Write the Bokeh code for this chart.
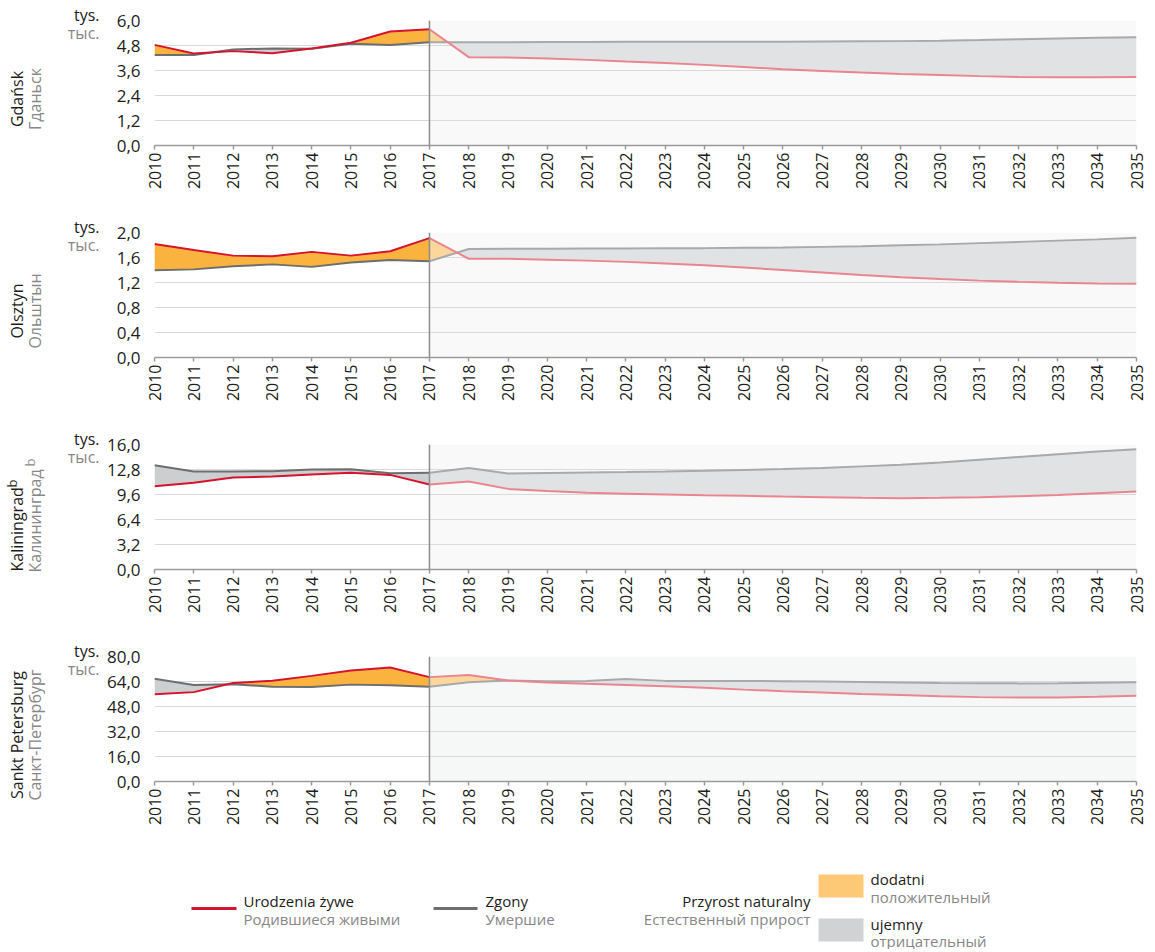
import numpy as np
from math import pi
from bokeh.plotting import figure
from bokeh.layouts import column, row
from bokeh.models import (Range1d, FixedTicker, CustomJSTickFormatter, Span,
                          BoxAnnotation)
from bokeh.core.properties import value
from bokeh.embed import file_html
from bokeh.resources import INLINE

FONT = "Open Sans"

years = list(range(2010, 2036))
split_year = 2017

gdansk_births = [4.83, 4.42, 4.53, 4.43, 4.66, 4.93, 5.47, 5.58,
                 4.24, 4.22, 4.18, 4.11, 4.03, 3.96, 3.87, 3.77, 3.66, 3.58,
                 3.50, 3.43, 3.38, 3.33, 3.29, 3.28, 3.28, 3.29]
gdansk_deaths = [4.34, 4.34, 4.61, 4.66, 4.64, 4.88, 4.82, 4.96,
                 4.96, 4.96, 4.97, 4.97, 4.98, 4.98, 4.98, 4.98, 4.98, 4.99,
                 5.00, 5.01, 5.03, 5.06, 5.10, 5.14, 5.17, 5.20]

olsztyn_births = [1.815, 1.72, 1.63, 1.62, 1.69, 1.63, 1.70, 1.91,
                  1.58, 1.58, 1.565, 1.55, 1.53, 1.505, 1.475, 1.44, 1.40, 1.36,
                  1.32, 1.285, 1.255, 1.23, 1.21, 1.195, 1.185, 1.18]
olsztyn_deaths = [1.395, 1.41, 1.46, 1.49, 1.45, 1.52, 1.56, 1.54,
                  1.735, 1.74, 1.74, 1.745, 1.745, 1.75, 1.75, 1.755, 1.76, 1.77,
                  1.78, 1.795, 1.81, 1.83, 1.85, 1.87, 1.89, 1.915]

kaliningrad_births = [10.66, 11.09, 11.78, 11.90, 12.16, 12.37, 12.11, 10.88,
                      11.26, 10.32, 10.05, 9.81, 9.70, 9.60, 9.50, 9.43, 9.33, 9.25,
                      9.18, 9.13, 9.17, 9.25, 9.38, 9.55, 9.77, 9.98]
kaliningrad_deaths = [13.35, 12.54, 12.54, 12.58, 12.80, 12.84, 12.33, 12.37,
                      13.00, 12.29, 12.35, 12.41, 12.47, 12.54, 12.64, 12.75, 12.86, 13.00,
                      13.20, 13.40, 13.70, 14.05, 14.40, 14.75, 15.10, 15.40]

spb_births = [55.9, 57.2, 63.0, 64.5, 67.6, 71.0, 73.0, 66.8,
              68.1, 64.6, 63.3, 62.5, 61.8, 61.0, 60.0, 58.8, 57.8, 56.9,
              56.0, 55.3, 54.6, 54.0, 53.7, 53.8, 54.3, 54.9]
spb_deaths = [65.7, 61.8, 62.2, 60.7, 60.5, 62.0, 61.6, 60.7,
              63.5, 64.6, 64.2, 64.3, 65.6, 64.4, 64.3, 64.3, 64.2, 64.0,
              63.7, 63.4, 63.1, 62.9, 62.8, 62.9, 63.2, 63.5]

# (polish name, russian name, superscript note, births, deaths, y max, forecast background)
panels = [
    ("Gdańsk", "Гданьск", "", gdansk_births, gdansk_deaths, 6.0, "#f9f9f9"),
    ("Olsztyn", "Ольштын", "", olsztyn_births, olsztyn_deaths, 2.0, "#f9f9f9"),
    ("Kaliningrad", "Калининград", "b", kaliningrad_births, kaliningrad_deaths, 16.0, "#f9f9f9"),
    ("Sankt Petersburg", "Санкт-Петербург", "", spb_births, spb_deaths, 80.0, "#f6f8f8"),
]

unit_pl = "tys."
unit_ru = "тыс."

legend_births = ("Urodzenia żywe", "Родившиеся живыми")
legend_deaths = ("Zgony", "Умершие")
legend_growth = ("Przyrost naturalny", "Естественный прирост")
legend_pos = ("dodatni", "положительный")
legend_neg = ("ujemny", "отрицательный")

RED = "#d7142f"
RED_L = "#ea8590"
GRAY = "#6d6e70"
GRAY_L = "#a8a9ab"
ORANGE = "#fbb340"
ORANGE_L = "#fcd79c"
FILLGRAY = "#cdcecf"
FILLGRAY_L = "#e1e2e4"
TXT = "#1d1d1b"
TXT2 = "#878787"


def with_crossings(x, b, d):
    xs, bs, ds = [x[0]], [b[0]], [d[0]]
    for i in range(len(x) - 1):
        d0 = b[i] - d[i]
        d1 = b[i + 1] - d[i + 1]
        if d0 * d1 < 0:
            t = d0 / (d0 - d1)
            xi = x[i] + t * (x[i + 1] - x[i])
            yi = b[i] + t * (b[i + 1] - b[i])
            xs.append(xi); bs.append(yi); ds.append(yi)
        xs.append(x[i + 1]); bs.append(b[i + 1]); ds.append(d[i + 1])
    return np.array(xs), np.array(bs), np.array(ds)


# layout constants (page pixels, origin at 1,1)
LEFT_W = 100
BORDER_L = 54
FRAME_W = 982
BORDER_R = 10
RIGHT_W = BORDER_L + FRAME_W + BORDER_R
FRAME_H = 125
PANEL_H = 212
LEG_H = 94
TOP0 = 20

figs = []
frame_tops = []
y_cursor = 1
for idx, (name_pl, name_ru, sup, births, deaths, ymax, bg) in enumerate(panels):
    top_b = TOP0 if idx == 0 else 13
    h = PANEL_H + (TOP0 - 13 if idx == 0 else 0)
    frame_tops.append(y_cursor + top_b)
    y_cursor += h
    p = figure(width=RIGHT_W, height=h, output_backend="svg", toolbar_location=None,
               x_range=Range1d(years[0], years[-1]), y_range=Range1d(0, ymax),
               min_border_left=BORDER_L, min_border_right=BORDER_R, min_border_top=top_b,
               min_border_bottom=74)
    p.outline_line_color = None
    p.background_fill_color = "white"
    p.xgrid.grid_line_color = None
    p.ygrid.grid_line_color = "#d9d9d9"
    p.ygrid.grid_line_width = 1

    k = years.index(split_year)
    p.add_layout(BoxAnnotation(left=split_year, right=years[-1], fill_color=bg,
                               fill_alpha=1, line_color=None, level="image"))

    x = np.array(years, dtype=float)
    b = np.array(births)
    d = np.array(deaths)
    for sl, fo, fg in [(slice(0, k + 1), ORANGE, FILLGRAY), (slice(k, None), ORANGE_L, FILLGRAY_L)]:
        xs, bs, ds = with_crossings(x[sl], b[sl], d[sl])
        top = np.maximum(bs, ds)
        p.varea(x=xs, y1=top, y2=ds, fill_color=fo)
        p.varea(x=xs, y1=top, y2=bs, fill_color=fg)

    p.line(x[:k + 1], d[:k + 1], line_color=GRAY, line_width=2)
    p.line(x[:k + 1], b[:k + 1], line_color=RED, line_width=2)
    p.line(x[k:], d[k:], line_color=GRAY_L, line_width=2)
    p.line(x[k:], b[k:], line_color=RED_L, line_width=2)

    p.add_layout(Span(location=split_year, dimension="height", line_color="#8c8c8c",
                      line_width=1.5))

    p.xaxis.ticker = FixedTicker(ticks=years)
    p.xaxis.major_label_orientation = pi / 2
    p.xaxis.axis_line_color = "#9a9a9a"
    p.xaxis.axis_line_width = 1.5
    p.xaxis.major_tick_line_color = "#9a9a9a"
    p.xaxis.major_tick_line_width = 1.5
    p.xaxis.major_tick_in = 0
    p.xaxis.major_tick_out = 4
    p.xaxis.minor_tick_line_color = None
    p.xaxis.major_label_text_font = FONT
    p.xaxis.major_label_text_font_size = "16px"
    p.xaxis.major_label_text_color = TXT
    p.xaxis.major_label_standoff = 3

    p.yaxis.ticker = FixedTicker(ticks=[ymax * i / 5 for i in range(6)])
    p.yaxis.formatter = CustomJSTickFormatter(code="return tick.toFixed(1).replace('.', ',');")
    p.yaxis.axis_line_color = None
    p.yaxis.major_tick_line_color = None
    p.yaxis.minor_tick_line_color = None
    p.yaxis.major_label_text_font = FONT
    p.yaxis.major_label_text_font_size = "17px"
    p.yaxis.major_label_text_color = TXT
    p.yaxis.major_label_standoff = 8
    figs.append(p)

leg_top = y_cursor
total_h = leg_top + LEG_H - 1
frame_left = 1 + LEFT_W + BORDER_L

# legend figure: its frame is aligned with the panel frames; coordinates = page pixels
leg = figure(width=RIGHT_W, height=LEG_H, output_backend="svg", toolbar_location=None,
             x_range=Range1d(frame_left, frame_left + FRAME_W),
             y_range=Range1d(leg_top + LEG_H, leg_top),
             min_border_left=BORDER_L, min_border_right=BORDER_R,
             min_border_top=0, min_border_bottom=0)
leg.axis.visible = False
leg.grid.visible = False
leg.outline_line_color = None

leg.line([192, 237], [909, 909], line_color=RED, line_width=3)
leg.line([434, 478], [909, 909], line_color=GRAY, line_width=3)
leg.quad(left=[819], right=[864], top=[875], bottom=[898], fill_color="#fdc977", line_color=None)
leg.quad(left=[819], right=[864], top=[919], bottom=[942], fill_color="#d1d2d4", line_color=None)


def legtext(x, y, t, color, align="left"):
    leg.text(x=[x], y=[y], text=[t], text_font=value(FONT), text_font_size="15px",
             text_color=color, text_align=align, text_baseline="middle")


legtext(244, 901, legend_births[0], TXT)
legtext(244, 919, legend_births[1], TXT2)
legtext(486, 901, legend_deaths[0], TXT)
legtext(486, 919, legend_deaths[1], TXT2)
legtext(811, 901, legend_growth[0], TXT, "right")
legtext(811, 919, legend_growth[1], TXT2, "right")
legtext(871, 879, legend_pos[0], TXT)
legtext(871, 897, legend_pos[1], TXT2)
legtext(871, 924, legend_neg[0], TXT)
legtext(871, 941, legend_neg[1], TXT2)

# left label column: coordinates = page pixels
lab = figure(width=LEFT_W, height=total_h, output_backend="svg", toolbar_location=None,
             x_range=Range1d(1, 1 + LEFT_W), y_range=Range1d(total_h + 1, 1),
             min_border=0, min_border_left=0, min_border_right=0,
             min_border_top=0, min_border_bottom=0)
lab.axis.visible = False
lab.grid.visible = False
lab.outline_line_color = None


def labtext(x, y, t, color, size="16px", angle=0.0, align="center"):
    lab.text(x=[x], y=[y], text=[t], angle=angle, text_font=value(FONT),
             text_font_size=size, text_color=color, text_align=align, text_baseline="middle")


for (name_pl, name_ru, sup, *_), ft in zip(panels, frame_tops):
    labtext(100, ft - 6, unit_pl, TXT, align="right")
    labtext(100, ft + 12, unit_ru, TXT2, align="right")
    cy = ft + FRAME_H / 2 + 16
    if sup:
        # base text anchored at its bottom end, superscript after its top end
        labtext(17, ft + 127, name_pl, TXT, angle=pi / 2, align="left")
        labtext(35, ft + 128, name_ru, TXT2, angle=pi / 2, align="left")
        labtext(12, ft + 39, sup, TXT, size="13px", angle=pi / 2)
        labtext(30, ft + 18, sup, TXT2, size="13px", angle=pi / 2)
    else:
        labtext(17, cy, name_pl, TXT, angle=pi / 2)
        labtext(35, cy, name_ru, TXT2, angle=pi / 2)

layout = row(lab, column(*figs, leg))
open("out.html", "w").write(file_html(layout, INLINE))
